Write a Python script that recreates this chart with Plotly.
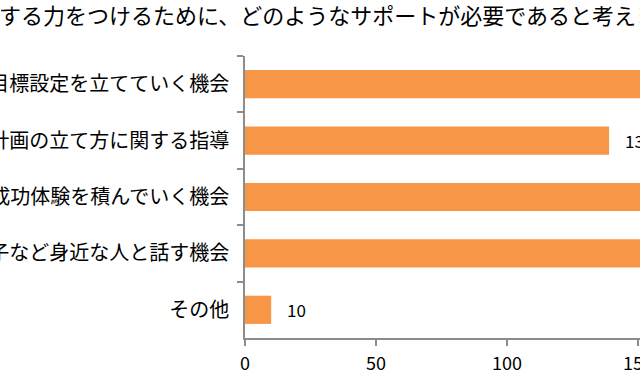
import plotly.graph_objects as go

title_text = "する力をつけるために、どのようなサポートが必要であると考えますか"
categories = [
    "目標設定を立てていく機会",
    "計画の立て方に関する指導",
    "成功体験を積んでいく機会",
    "親子など身近な人と話す機会",
    "その他",
]
values = [175, 139, 182, 160, 10]
x_ticks = [0, 50, 100, 150]

FONT = "Noto Sans CJK JP"
BAR = "#F79646"
AXIS = "#8C8C8C"

fig = go.Figure()
fig.add_trace(go.Bar(
    x=values, y=categories, orientation="h",
    marker=dict(color=BAR, line=dict(width=0)),
    width=0.5, showlegend=False, hoverinfo="skip",
))

for v, c in zip(values, categories):
    fig.add_annotation(x=v, y=c, text=str(v), showarrow=False,
                       xanchor="left", xshift=14,
                       font=dict(family=FONT, size=17, color="#000000"))

fig.add_annotation(xref="paper", yref="paper", x=0, y=1,
                   xanchor="left", yanchor="middle", xshift=-248, yshift=42,
                   text=title_text, showarrow=False,
                   font=dict(family=FONT, size=22, color="#000000"))

fig.update_layout(
    width=640, height=388,
    margin=dict(l=245, r=0, t=56, b=50, autoexpand=False),
    paper_bgcolor="white", plot_bgcolor="white",
    font=dict(family=FONT, color="#000000"),
)
fig.update_xaxes(
    range=[0, 150.8], tickvals=x_ticks, ticktext=[str(t) for t in x_ticks],
    showgrid=False, zeroline=False, showline=True, linecolor=AXIS, linewidth=1.5,
    ticks="outside", ticklen=6, tickcolor=AXIS, tickwidth=1.5,
    tickfont=dict(family=FONT, size=18, color="#000000"),
    ticklabeloverflow="allow", ticklabelstandoff=3,
    automargin=False,
)
fig.update_yaxes(
    categoryorder="array", categoryarray=categories, range=[4.5, -0.5],
    tickson="boundaries", showgrid=False, zeroline=False,
    showline=True, linecolor=AXIS, linewidth=1.5,
    ticks="outside", ticklen=6, tickcolor=AXIS, tickwidth=1.5,
    tickfont=dict(family=FONT, size=20, color="#000000"),
    ticklabelstandoff=10, ticklabeloverflow="allow", automargin=False,
)

fig.write_html("out.html", config={"displayModeBar": False},
               post_script="document.body.style.margin='0';")
